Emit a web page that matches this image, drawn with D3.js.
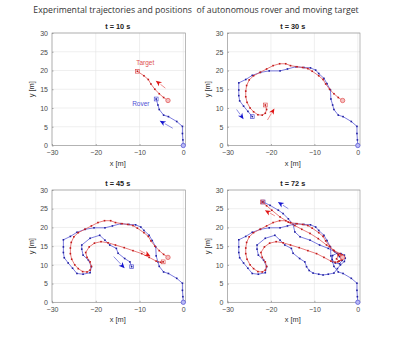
<!DOCTYPE html>
<html><head><meta charset="utf-8">
<script src="https://cdn.jsdelivr.net/npm/d3@7"></script>
<style>body{margin:0;background:#fff}svg{display:block}</style>
</head><body>
<script>
const mainTitle = "Experimental trajectories and positions  of autonomous rover and moving target";
const panelTimes = [10, 30, 45, 72];
const xTicks = [-30, -20, -10, 0];
const yTicks = [0, 5, 10, 15, 20, 25, 30];

// full rover trajectory [x, y] in metres
const roverPath = [
  [0,0],[-0.1,1.5],[-0.2,3.2],[-0.2,5.1],[-1.5,6.4],[-3.4,7.7],[-4.5,8.1],[-5.5,9.6],[-5.8,10.8],[-6.2,12.4],
  [-6.3,14.8],[-7.1,16.5],[-7.8,17.9],[-9.0,19.2],[-9.7,20.1],[-10.9,20.7],[-12.4,20.8],[-14.3,21.0],[-16.2,20.4],[-17.9,19.9],
  [-20.4,19.9],[-22.4,19.5],[-24.3,18.7],[-25.8,17.6],[-27.4,16.7],[-27.4,14.8],[-27.4,13.3],[-27.2,11.9],[-26.3,10.5],[-25.3,9.1],[-24.3,7.7],
  [-22.9,7.5],[-21.3,7.9],[-21.0,9.5],[-21.7,11.3],[-22.9,12.6],[-23.2,14.2],[-23.2,15.3],[-21.3,17.1],[-19.1,17.9],[-17.9,16.6],
  [-16.8,15.3],[-15.3,14.4],[-14.9,13.1],[-13.4,11.7],[-12.2,10.8],[-11.8,9.5],
  [-11.2,8.5],[-10.3,7.8],[-9.0,7.5],[-8.0,7.3],[-6.8,7.5],[-5.5,7.8],[-4.7,9.0],[-4.0,10.0],[-3.1,10.9],[-2.9,11.8],
  [-3.1,12.6],[-3.9,13.0],[-4.8,13.1],[-5.8,12.5],[-5.9,11.4],[-5.2,10.5],[-4.2,10.3],[-3.6,11.2],[-4.2,12.2],[-5.3,13.5],
  [-6.8,14.4],[-8.8,15.3],[-11.0,16.6],[-13.3,17.5],[-14.5,18.8],[-14.9,20.8],[-16.0,22.3],[-17.2,23.7],[-18.3,24.6],[-20.2,25.9],[-21.8,26.8]
];
// full target trajectory
const targetPath = [
  [-3.5,12.0],[-4.5,12.8],[-5.5,13.8],[-6.5,15.0],[-7.4,16.4],[-8.0,17.6],[-9.0,18.6],[-10.5,19.8],
  [-11.5,20.5],[-12.7,20.8],[-14.0,21.0],[-15.5,21.3],[-16.6,21.8],[-18.0,21.8],[-19.5,21.3],[-21.0,20.4],[-22.5,19.5],[-24.0,18.6],
  [-25.0,17.5],[-25.6,16.0],[-25.8,14.5],[-25.8,13.0],[-25.5,11.5],[-24.8,10.0],[-24.0,9.0],[-23.0,8.2],[-22.0,8.1],[-21.3,8.6],[-21.0,9.6],[-21.3,10.8],
  [-22.0,12.0],[-22.3,13.3],[-21.5,14.8],[-20.3,15.8],[-18.8,16.2],[-17.2,15.9],[-15.5,15.3],[-13.5,14.6],[-11.5,13.8],[-9.5,13.0],[-7.8,12.0],[-6.2,11.0],[-5.2,10.7],[-4.6,10.8],
  [-3.8,11.3],[-3.2,12.0],[-3.6,12.7],[-4.5,12.5],[-4.9,11.6],[-4.3,11.0],[-3.6,11.5],[-4.1,13.0],[-5.6,13.9],[-7.2,15.3],[-9.1,17.0],
  [-11.0,18.4],[-12.9,19.5],[-14.5,20.5],[-16.0,21.4],[-17.9,22.8],[-19.8,24.6],[-21.0,25.8],[-22.0,26.8]
];
// number of samples shown at each panel time
const roverCut = [10, 31, 47, 78];
const targetCut = [8, 30, 44, 63];
// heading arrows per panel: [x tail, y tail, x head, y head]
const roverArrows = [[-2.4,4.6,-5.4,6.6],[-27.9,9.6,-26.3,7.0],[-15.9,12.2,-13.4,9.1],[-16.0,25.0,-18.4,26.8]];
const targetArrows = [[-4.1,15.3,-6.3,17.3],[-20.8,6.8,-19.2,9.9],[-10.0,13.9,-7.5,12.3],[-19.1,23.1,-21.4,24.6]];
// text labels in first panel
const labels = [{text:"Target", x:-8.7, y:22.2, who:"target"},{text:"Rover", x:-9.7, y:11.1, who:"rover"}];

const W = 396, H = 340;
const svg = d3.select("body").append("svg").attr("width", W).attr("height", H);
const font = "'Liberation Sans', Arial, sans-serif";

svg.append("text").attr("x", 196).attr("y", 13).attr("text-anchor", "middle")
  .style("white-space", "pre")
  .attr("font-family", "'Open Sans', sans-serif").attr("font-size", 8.7).attr("fill", "#333")
  .text(mainTitle);

const boxes = [
  {x0:52, x1:185.5, y0:33, y1:145.5},
  {x0:227.5, x1:360, y0:33, y1:145.5},
  {x0:52, x1:185.5, y0:190, y1:302.3},
  {x0:227.5, x1:360, y0:190, y1:302.3}
];
const col = {
  rover: {line:"#5050d4", dot:"#2020a0", head:"#1515d0", tail:"#8080e0"},
  target:{line:"#e05050", dot:"#c01818", head:"#e01515", tail:"#ee8080"}
};

boxes.forEach((b, i) => {
  const x = d3.scaleLinear().domain([-30, 0.5]).range([b.x0, b.x1]);
  const y = d3.scaleLinear().domain([0, 30]).range([b.y1, b.y0]);
  const g = svg.append("g");
  // grid
  g.selectAll(".gx").data(xTicks).join("line")
    .attr("x1", d => x(d)).attr("x2", d => x(d)).attr("y1", b.y0).attr("y2", b.y1)
    .attr("stroke", "#e4e4e4").attr("stroke-width", 0.6);
  g.selectAll(".gy").data(yTicks).join("line")
    .attr("y1", d => y(d)).attr("y2", d => y(d)).attr("x1", b.x0).attr("x2", b.x1)
    .attr("stroke", "#e4e4e4").attr("stroke-width", 0.6);
  // axes
  const ax = g.append("g").attr("transform", `translate(0,${b.y1})`)
    .call(d3.axisBottom(x).tickValues(xTicks).tickSize(-1.5).tickPadding(5).tickFormat(d3.format("d")));
  const ay = g.append("g").attr("transform", `translate(${b.x0},0)`)
    .call(d3.axisLeft(y).tickValues(yTicks).tickSize(-1.5).tickPadding(4).tickFormat(d3.format("d")));
  [ax, ay].forEach(a => {
    a.select(".domain").remove();
    a.selectAll("line").attr("stroke", "#777").attr("stroke-width", 0.6);
    a.selectAll("text").attr("font-family", font).attr("font-size", 7).attr("fill", "#4a4a4a");
  });
  g.append("rect").attr("x", b.x0).attr("y", b.y0).attr("width", b.x1 - b.x0).attr("height", b.y1 - b.y0)
    .attr("fill", "none").attr("stroke", "#8a8a8a").attr("stroke-width", 0.6);
  // labels
  g.append("text").attr("x", (b.x0 + b.x1) / 2 - 1).attr("y", b.y0 - 4).attr("text-anchor", "middle")
    .attr("font-family", font).attr("font-size", 7.3).attr("font-weight", "bold").attr("fill", "#222")
    .text(`t = ${panelTimes[i]} s`);
  g.append("text").attr("x", (b.x0 + b.x1) / 2 - 1).attr("y", b.y1 + 20).attr("text-anchor", "middle")
    .attr("font-family", font).attr("font-size", 7.4).attr("fill", "#333").text("x [m]");
  g.append("text").attr("transform", `translate(${b.x0 - 18},${(b.y0 + b.y1) / 2}) rotate(-90)`)
    .attr("text-anchor", "middle").attr("font-family", font).attr("font-size", 7.4).attr("fill", "#333").text("y [m]");

  const line = d3.line().x(d => x(d[0])).y(d => y(d[1]));
  const series = [
    {who:"rover", pts: roverPath.slice(0, roverCut[i]), arr: roverArrows[i]},
    {who:"target", pts: targetPath.slice(0, targetCut[i]), arr: targetArrows[i]}
  ];
  series.forEach(s => {
    const c = col[s.who];
    g.append("path").attr("d", line(s.pts)).attr("fill", "none").attr("stroke", c.line).attr("stroke-width", 0.75);
    g.selectAll(null).data(s.pts).join("rect")
      .attr("x", d => x(d[0]) - 0.8).attr("y", d => y(d[1]) - 0.8).attr("width", 1.6).attr("height", 1.6)
      .attr("fill", c.dot);
    // start circle
    const st = s.pts[0];
    g.append("circle").attr("cx", x(st[0])).attr("cy", y(st[1])).attr("r", 2.2)
      .attr("fill", s.who === "rover" ? "#b8b8f4" : "#f6c0c0").attr("stroke", c.line).attr("stroke-width", 0.7);
    // current position square
    const en = s.pts[s.pts.length - 1];
    g.append("rect").attr("x", x(en[0]) - 1.9).attr("y", y(en[1]) - 1.9).attr("width", 3.8).attr("height", 3.8)
      .attr("fill", "none").attr("stroke", c.line).attr("stroke-width", 0.7);
    // arrow
    const [xa, ya, xb, yb] = s.arr;
    const px0 = x(xa), py0 = y(ya), px1 = x(xb), py1 = y(yb);
    const ang = Math.atan2(py1 - py0, px1 - px0);
    const L = 6, Wd = 2.6;
    const bx = px1 - L * Math.cos(ang), by = py1 - L * Math.sin(ang);
    const nx = -Math.sin(ang), ny = Math.cos(ang);
    g.append("line").attr("x1", px0).attr("y1", py0).attr("x2", bx).attr("y2", by)
      .attr("stroke", c.tail).attr("stroke-width", 0.9);
    const nb = 1.6;
    const mx = px1 - (L - nb) * Math.cos(ang), my = py1 - (L - nb) * Math.sin(ang);
    g.append("path").attr("d",
      `M${px1},${py1}L${bx + nx * Wd},${by + ny * Wd}L${mx},${my}L${bx - nx * Wd},${by - ny * Wd}Z`)
      .attr("fill", c.head);
  });
  if (i === 0) {
    labels.forEach(l => {
      g.append("text").attr("x", x(l.x)).attr("y", y(l.y) + 2.3).attr("text-anchor", "middle")
        .attr("font-family", font).attr("font-size", 6.5).attr("fill", col[l.who].line).text(l.text);
    });
  }
});
</script>
</body></html>
